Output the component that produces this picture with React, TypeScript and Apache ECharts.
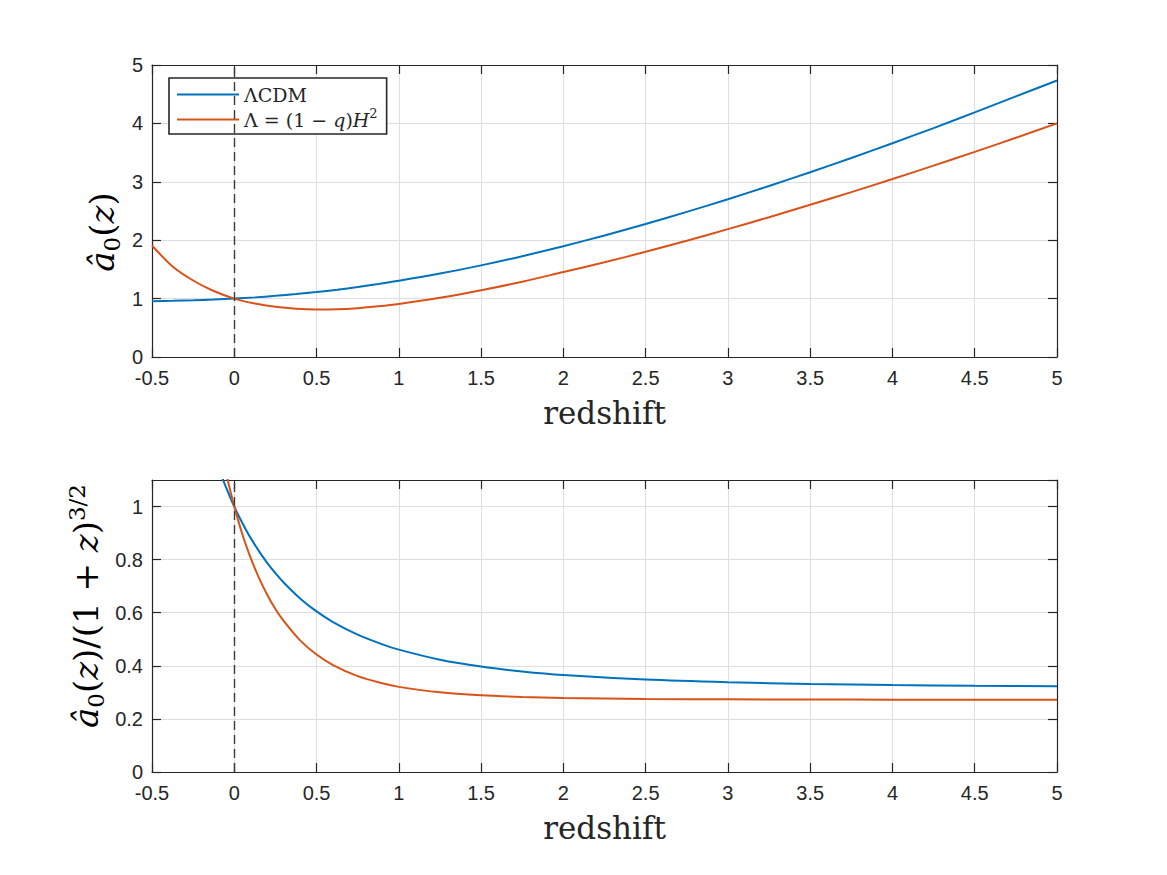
import React, { useEffect, useRef } from "react";
import * as echarts from "echarts";

// Top panel: a0(z)
const zTop = [-0.5, -0.375, -0.25, -0.125, 0, 0.125, 0.25, 0.375, 0.5, 0.625, 0.75, 0.875, 1, 1.25, 1.5, 1.75, 2, 2.25, 2.5, 2.75, 3, 3.25, 3.5, 3.75, 4, 4.25, 4.5, 4.75, 5];
const lcdmTop = [0.955, 0.9615, 0.971, 0.9834, 1.0, 1.021, 1.047, 1.077, 1.112, 1.153, 1.198, 1.249, 1.304, 1.428, 1.569, 1.726, 1.897, 2.082, 2.278, 2.485, 2.702, 2.929, 3.164, 3.408, 3.661, 3.92, 4.188, 4.462, 4.735];
const dynTop = [1.91, 1.55, 1.31, 1.13, 1.0, 0.915, 0.859, 0.826, 0.813, 0.817, 0.836, 0.867, 0.907, 1.013, 1.142, 1.289, 1.455, 1.621, 1.802, 1.992, 2.19, 2.394, 2.606, 2.823, 3.047, 3.277, 3.513, 3.754, 4.0];

// Bottom panel: a0(z)/(1+z)^{3/2}
const zBot = [-0.1, -0.075, -0.05, -0.025, 0, 0.025, 0.05, 0.075, 0.1, 0.15, 0.2, 0.25, 0.3, 0.4, 0.5, 0.6, 0.75, 0.9, 1, 1.25, 1.5, 1.75, 2, 2.5, 3, 3.5, 4, 4.5, 5];
const lcdmBot = [1.155, 1.112, 1.072, 1.035, 1, 0.967, 0.937, 0.908, 0.881, 0.832, 0.788, 0.749, 0.714, 0.654, 0.605, 0.565, 0.5175, 0.481, 0.461, 0.423, 0.397, 0.3785, 0.365, 0.348, 0.338, 0.3315, 0.3274, 0.3247, 0.3227];
const dynBot = [1.281, 1.201, 1.127, 1.061, 1, 0.945, 0.894, 0.848, 0.806, 0.731, 0.668, 0.614, 0.569, 0.496, 0.4426, 0.403, 0.361, 0.334, 0.3207, 0.3, 0.289, 0.2827, 0.279, 0.2752, 0.2737, 0.273, 0.2725, 0.2723, 0.2722];

const legendNames = ["ΛCDM", "Λ = (1 − q)H²"];
const xLabel = "redshift";

const BLUE = "#0072BD";
const ORANGE = "#D95319";
const INK = "#262626";
const GRID = "#dedede";
const SANS = "'Liberation Sans', Arial, Helvetica, sans-serif";
const SERIF = "'DejaVu Serif', serif";

function xAxisMain(gridIndex: number) {
  return {
    type: "value",
    gridIndex,
    min: -0.5,
    max: 5,
    interval: 0.5,
    position: "bottom",
    name: xLabel,
    nameLocation: "middle",
    nameGap: 40,
    nameTextStyle: { fontFamily: SERIF, fontSize: 31, color: INK },
    axisLine: { onZero: false, lineStyle: { color: INK, width: 1.2 } },
    axisTick: { inside: true, length: 9, lineStyle: { color: INK, width: 1.2 } },
    axisLabel: { margin: 11, fontFamily: SANS, fontSize: 20, color: INK },
    splitLine: { show: true, lineStyle: { color: GRID, width: 1 } },
  };
}
function xAxisTop(gridIndex: number) {
  return {
    type: "value",
    gridIndex,
    min: -0.5,
    max: 5,
    interval: 0.5,
    position: "top",
    axisLine: { onZero: false, lineStyle: { color: INK, width: 1.2 } },
    axisTick: { inside: true, length: 9, lineStyle: { color: INK, width: 1.2 } },
    axisLabel: { show: false },
    splitLine: { show: false },
  };
}
function yAxisMain(gridIndex: number, max: number, interval: number, showMax: boolean) {
  return {
    type: "value",
    gridIndex,
    min: 0,
    max,
    interval,
    position: "left",
    axisLine: { show: true, onZero: false, lineStyle: { color: INK, width: 1.2 } },
    axisTick: { show: true, inside: true, length: 9, lineStyle: { color: INK, width: 1.2 } },
    axisLabel: { margin: 9, fontFamily: SANS, fontSize: 20, color: INK, showMaxLabel: showMax },
    splitLine: { show: true, lineStyle: { color: GRID, width: 1 } },
  };
}
function yAxisRight(gridIndex: number, max: number, interval: number) {
  return {
    type: "value",
    gridIndex,
    min: 0,
    max,
    interval,
    position: "right",
    axisLine: { show: true, onZero: false, lineStyle: { color: INK, width: 1.2 } },
    axisTick: { show: true, inside: true, length: 9, lineStyle: { color: INK, width: 1.2 } },
    axisLabel: { show: false },
    splitLine: { show: false },
  };
}

const dashed = {
  silent: true,
  symbol: "none",
  label: { show: false },
  lineStyle: { type: [9, 5], color: "#3a3a3a", width: 1.4 },
  data: [{ xAxis: 0 }],
};

function lineSeries(name: string, xs: number[], ys: number[], color: string, axis: number, mark: boolean) {
  const s: any = {
    type: "line",
    name,
    xAxisIndex: axis,
    yAxisIndex: axis,
    data: xs.map((x, i) => [x, ys[i]]),
    showSymbol: false,
    symbol: "none",
    smooth: 0.3,
    clip: true,
    lineStyle: { color, width: 2 },
    itemStyle: { color },
  };
  if (mark) s.markLine = dashed;
  return s;
}

const mathRich = {
  m: { fontFamily: SERIF, fontSize: 34, lineHeight: 42, color: INK },
  i: { fontFamily: SERIF, fontSize: 34, lineHeight: 42, fontStyle: "italic", color: INK },
  s: { fontFamily: SERIF, fontSize: 23, lineHeight: 23, verticalAlign: "bottom", color: INK },
  p: { fontFamily: SERIF, fontSize: 23, lineHeight: 23, verticalAlign: "top", color: INK },
};

export default function App() {
  const ref = useRef<HTMLDivElement>(null);
  useEffect(() => {
    if (!ref.current) return;
    const chart = echarts.init(ref.current, undefined, { renderer: "svg" });
    const option: any = {
      animation: false,
      backgroundColor: "#ffffff",
      grid: [
        { left: 152, top: 65, width: 905, height: 292 },
        { left: 152, top: 480, width: 905, height: 292 },
      ],
      xAxis: [xAxisMain(0), xAxisTop(0), xAxisMain(1), xAxisTop(1)].map((a: any, i) => {
        a.gridIndex = i < 2 ? 0 : 1;
        return a;
      }),
      yAxis: [yAxisMain(0, 5, 1, true), yAxisRight(0, 5, 1), yAxisMain(1, 1.1, 0.2, false), yAxisRight(1, 1.1, 0.2)],
      legend: {
        data: legendNames,
        left: 169,
        top: 78,
        orient: "vertical",
        icon: "rect",
        itemWidth: 62,
        itemHeight: 2,
        itemGap: 3,
        padding: [7, 9, 5, 8],
        backgroundColor: "#ffffff",
        borderColor: INK,
        borderWidth: 1.6,
        selectedMode: false,
        formatter: (name: string) =>
          name === legendNames[0]
            ? "{m|ΛCDM}"
            : "{m|Λ = (1 − }{i|q}{m|)}{i|H}{s|2}",
        textStyle: {
          fontFamily: SERIF,
          fontSize: 19,
          color: INK,
          rich: {
            m: { fontFamily: SERIF, fontSize: 19, lineHeight: 25, color: INK },
            i: { fontFamily: SERIF, fontSize: 19, lineHeight: 25, fontStyle: "italic", color: INK },
            s: { fontFamily: SERIF, fontSize: 13, lineHeight: 12, verticalAlign: "top", color: INK },
          },
        },
      },
      series: [
        lineSeries(legendNames[0], zTop, lcdmTop, BLUE, 0, true),
        lineSeries(legendNames[1], zTop, dynTop, ORANGE, 0, false),
        lineSeries("ΛCDM scaled", zBot, lcdmBot, BLUE, 2, true),
        lineSeries("dyn scaled", zBot, dynBot, ORANGE, 2, false),
      ],
      graphic: [
        {
          type: "text",
          x: 102,
          y: 232,
          rotation: Math.PI / 2,
          style: {
            text: "{i|â}{s|0}{m|(}{i|z}{m|)}",
            rich: mathRich,
            align: "center",
            verticalAlign: "middle",
          },
        },
        {
          type: "text",
          x: 86,
          y: 606,
          rotation: Math.PI / 2,
          style: {
            text: "{i|â}{s|0}{m|(}{i|z}{m|)/(1 + }{i|z}{m|)}{p|3/2}",
            rich: mathRich,
            align: "center",
            verticalAlign: "middle",
          },
        },
      ],
    };
    chart.setOption(option);
    return () => chart.dispose();
  }, []);
  return (
    <div
      ref={ref}
      style={{ position: "absolute", left: 0, top: 0, width: 1167, height: 875, background: "#fff" }}
    />
  );
}
